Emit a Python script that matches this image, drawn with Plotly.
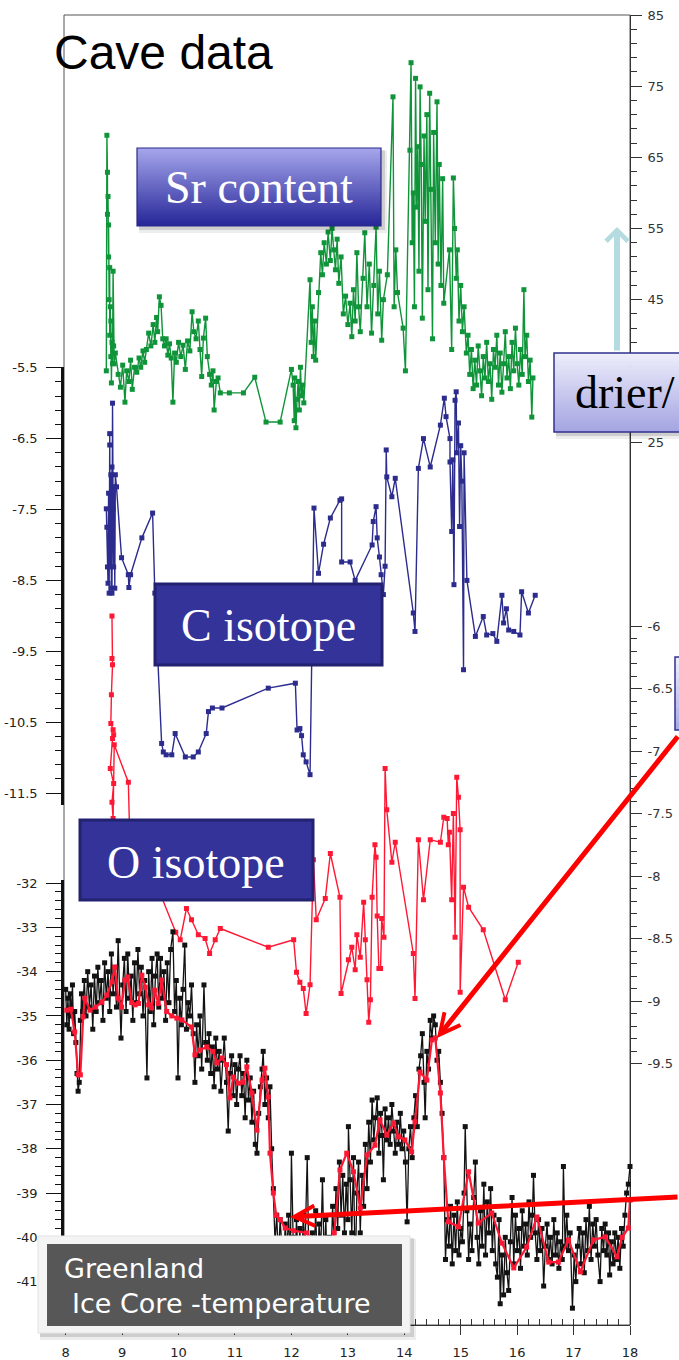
import plotly.graph_objects as go

# ---------------- data ----------------
x_ticks = [8, 9, 10, 11, 12, 13, 14, 15, 16, 17, 18]
sr_ticks = [25, 45, 55, 65, 75, 85]
c_ticks = [-5.5, -6.5, -7.5, -8.5, -9.5, -10.5, -11.5]
o_ticks = [-6, -6.5, -7, -7.5, -8, -8.5, -9, -9.5]
o_tick_text = ["-6", "-6.5", "-7", "-7.5", "-8", "-8.5", "-9", "-9.5"]
t_ticks = [-32, -33, -34, -35, -36, -37, -38, -39, -40, -41, -42]

# Sr content (right upper axis)
sr_x = [8.72, 8.73, 8.74, 8.74, 8.75, 8.76, 8.76, 8.77, 8.78, 8.78, 8.79, 8.80, 8.80, 8.81, 8.82, 8.83, 8.84, 8.85, 8.86, 8.88,
        8.93, 8.97, 9.01, 9.05, 9.08, 9.12, 9.15, 9.18, 9.22, 9.26, 9.30, 9.33, 9.37, 9.40,
        9.43, 9.47, 9.51, 9.55, 9.58, 9.61, 9.63, 9.66, 9.69, 9.72,
        9.75, 9.78, 9.81, 9.84, 9.87, 9.90, 9.93, 9.96,
        10.00, 10.04, 10.08, 10.12, 10.16, 10.20, 10.24, 10.27,
        10.31, 10.35, 10.38, 10.41, 10.44, 10.48, 10.51,
        10.55, 10.58, 10.61, 10.63, 10.67, 10.70, 10.74,
        10.90, 11.15, 11.35, 11.55, 11.80,
        12.00, 12.03, 12.05, 12.06, 12.08, 12.10, 12.12, 12.14, 12.16, 12.18, 12.20, 12.22,
        12.33, 12.35, 12.37, 12.39, 12.41, 12.43,
        12.48, 12.52, 12.55, 12.58, 12.62, 12.65,
        12.69, 12.72, 12.75, 12.78, 12.81, 12.84, 12.88,
        12.92, 12.96, 13.00, 13.04, 13.07, 13.10, 13.13, 13.16, 13.19, 13.22,
        13.27, 13.30, 13.34, 13.38, 13.42, 13.46, 13.50, 13.53, 13.56, 13.60, 13.63,
        13.70, 13.80, 13.82, 13.85, 13.88, 13.98, 14.02,
        14.10, 14.12, 14.14, 14.16, 14.18,
        14.20, 14.22, 14.24, 14.26, 14.28, 14.30, 14.32, 14.35, 14.37, 14.40, 14.42, 14.45, 14.47, 14.50, 14.52, 14.55,
        14.58, 14.60, 14.62, 14.65, 14.68, 14.70,
        14.80, 14.84, 14.87, 14.89, 14.92, 14.94, 14.97, 15.00, 15.03, 15.06,
        15.10, 15.13, 15.16, 15.19, 15.22, 15.25, 15.28, 15.31, 15.34, 15.37, 15.40, 15.43, 15.46, 15.49, 15.52,
        15.55, 15.58, 15.61, 15.64, 15.67, 15.70, 15.73, 15.76, 15.79, 15.82, 15.85, 15.88, 15.91, 15.94, 15.97,
        16.00, 16.03, 16.06, 16.09, 16.12, 16.14, 16.17, 16.20, 16.23, 16.26, 16.28]
sr_val = [35.0, 68.1, 62.9, 57.0, 59.5, 51.0, 55.5, 45.0, 49.5, 40.0, 44.0, 37.0, 42.0, 33.3, 39.0, 36.0, 49.0, 38.5, 36.0, 37.5,
          34.5, 32.7, 35.8, 30.6, 35.0, 33.5, 36.5, 32.4, 35.5, 34.8, 36.8, 35.5, 37.8, 36.2,
          38.0, 40.3, 38.5, 41.5, 39.0, 42.5, 40.5, 45.4, 44.2, 39.5,
          38.5, 39.5, 37.2, 38.8, 36.8, 30.6, 37.5, 36.2,
          39.0, 37.0, 38.6, 35.2, 39.2, 37.8, 43.3, 40.5,
          39.5, 42.0, 38.0, 34.2, 39.6, 42.4, 37.0,
          34.5, 33.0, 35.0, 29.5, 33.5, 34.0, 31.9,
          31.9, 31.9, 34.1, 27.8, 27.8,
          35.2, 33.0, 28.0, 34.0, 27.0, 31.0, 33.5, 29.5, 35.5, 31.5, 33.0, 30.5,
          47.8, 39.0, 44.0, 37.0, 42.0, 36.5,
          46.0, 51.6, 48.5, 53.0, 50.0, 54.5,
          50.5, 55.0, 52.0, 49.2, 53.5, 47.3, 51.0,
          43.0, 45.5, 41.5, 44.5, 39.8, 46.4, 42.0, 51.6, 44.0, 40.5,
          48.0, 54.4, 44.0, 50.0, 40.3, 47.0, 55.2, 43.0, 49.0, 39.3, 45.0,
          48.5, 73.5, 44.0, 52.0, 46.0, 41.0, 35.0,
          66.0, 78.3, 53.0, 60.0, 44.0,
          76.1, 58.0, 66.5, 49.0, 74.9, 64.0, 42.4, 68.0, 56.0, 71.0, 46.4, 74.0, 60.5, 39.5, 68.5, 53.0,
          72.8, 50.0, 64.0, 47.0, 62.0, 44.5,
          52.0, 38.0, 62.1, 55.0, 48.0, 52.0, 42.0, 47.0, 40.5, 44.0,
          37.5, 40.0, 34.5, 38.0, 32.5, 36.5, 33.0, 38.5, 35.0, 31.5, 37.0, 34.0, 39.0, 33.5, 36.0,
          31.0, 38.0, 35.5, 40.0, 33.0, 37.5, 32.0, 36.0, 40.5, 34.0, 37.0, 32.5, 39.0, 35.0, 41.0,
          36.0, 33.0, 38.0, 34.5, 46.4, 37.0, 40.0, 33.5, 36.5, 28.5, 34.0]

# C isotope (left upper axis)
c_x = [8.72, 8.73, 8.74, 8.75, 8.76, 8.77, 8.78, 8.78, 8.79, 8.80, 8.81, 8.82, 8.82, 8.83, 8.84, 8.85, 8.86, 8.87, 8.88, 8.90,
       8.99, 9.11, 9.12, 9.15, 9.35, 9.54, 9.58,
       9.70, 9.73, 9.78, 9.88, 9.94, 10.12, 10.26, 10.35, 10.49, 10.53, 10.60, 10.77, 11.59, 12.07, 12.10, 12.15, 12.18, 12.21, 12.26, 12.33,
       12.40, 12.48, 12.57, 12.69, 12.86, 12.89, 12.89, 13.04, 13.13,
       13.43, 13.45, 13.50, 13.52, 13.56, 13.59, 13.63, 13.66, 13.68, 13.69, 13.78, 13.84,
       14.16, 14.19, 14.25, 14.34, 14.46, 14.64, 14.71, 14.74, 14.81, 14.81, 14.84, 14.86, 14.88, 14.90, 14.92, 14.93, 14.96, 14.98,
       15.00, 15.02, 15.05, 15.06, 15.11,
       15.26, 15.40, 15.46, 15.57, 15.64, 15.73, 15.76, 15.81, 15.85, 15.94, 16.05, 16.08, 16.20, 16.32]
c_val = [-7.49, -7.75, -8.31, -8.54, -7.27, -8.68, -6.59, -6.43, -8.31, -7.01, -8.61, -6.90, -8.68, -6.00, -7.49, -8.31, -7.18, -8.61, -7.01, -7.18,
         -8.18, -8.42, -8.60, -8.42, -7.90, -7.55, -8.68,
         -10.80, -10.92, -10.96, -10.96, -10.66, -10.99, -10.99, -10.92, -10.66, -10.35, -10.30, -10.30, -10.02, -9.95, -10.61, -10.59, -10.69, -10.96, -11.06, -11.24,
         -7.48, -8.40, -7.99, -7.62, -7.37, -7.35, -8.24, -8.24, -8.50,
         -8.00, -7.67, -7.46, -7.90, -8.17, -8.42, -8.70, -8.30, -6.66, -7.04, -7.32, -7.06,
         -8.96, -9.22, -6.92, -6.50, -6.90, -6.31, -5.93, -6.19, -6.50, -6.83, -7.81, -6.80, -8.56, -5.96, -5.84, -6.70, -6.28, -7.74,
         -6.60, -7.10, -9.76, -6.70, -8.50,
         -9.29, -9.01, -9.27, -9.25, -9.36, -8.71, -9.10, -8.90, -9.20, -9.22, -9.27, -8.66, -8.96, -8.71]

# O isotope (right lower axis)
o_x = [8.82, 8.82, 8.83, 8.81, 8.80, 8.84, 8.85, 8.83, 8.79, 8.85, 8.82, 8.84, 8.86, 9.11, 9.13, 9.55, 9.95, 10.03, 10.14, 10.23,
       10.35, 10.47, 10.55, 10.65, 10.74, 11.59, 12.04, 12.09, 12.15, 12.21, 12.26, 12.33, 12.39, 12.44, 12.60, 12.69, 12.86, 12.88,
       13.01, 13.07, 13.13, 13.16, 13.22, 13.28, 13.31, 13.34, 13.37, 13.40, 13.43, 13.48, 13.50, 13.52, 13.55, 13.58, 13.60, 13.64,
       13.66, 13.69, 13.78, 13.84, 14.16, 14.19, 14.25, 14.34, 14.46, 14.64, 14.70, 14.76, 14.78, 14.80, 14.84, 14.87, 14.90, 14.93,
       14.96, 14.99, 14.99, 15.05, 15.14, 15.40, 15.79, 16.02]
o_val = [-5.92, -6.26, -6.31, -6.55, -6.78, -6.83, -6.87, -6.90, -7.14, -7.26, -7.41, -7.54, -6.95, -7.25, -7.60, -8.00, -8.45, -8.51, -8.26, -8.35,
         -8.47, -8.50, -8.62, -8.51, -8.42, -8.57, -8.51, -8.77, -8.85, -8.90, -9.10, -8.87, -7.87, -8.35, -8.18, -7.82, -8.17, -8.94,
         -8.67, -8.57, -8.75, -8.47, -8.65, -8.21, -8.51, -8.83, -9.17, -8.99, -8.17, -7.75, -7.85, -8.32, -8.74, -8.74, -8.34, -8.49,
         -7.14, -7.47, -7.89, -7.73, -8.62, -8.98, -7.71, -8.19, -7.71, -7.73, -7.53, -7.54, -7.75, -7.65, -8.19, -7.50, -8.49, -7.21,
         -7.37, -7.63, -8.93, -8.09, -8.25, -8.43, -8.99, -8.69]

# Greenland ice core temperature, raw (left lower axis)
t_x = [8.00, 8.02, 8.04, 8.06, 8.08, 8.10, 8.12, 8.14, 8.16, 8.18, 8.20, 8.22, 8.24, 8.26, 8.28, 8.30,
       8.33, 8.36, 8.39, 8.42, 8.45, 8.48, 8.51, 8.54, 8.57, 8.60, 8.63, 8.66, 8.69, 8.72, 8.75, 8.78, 8.81, 8.84, 8.87, 8.90, 8.93, 8.96, 8.98,
       9.01, 9.04, 9.07, 9.10, 9.13, 9.16, 9.19, 9.22, 9.25, 9.28, 9.31, 9.34, 9.37, 9.40, 9.44, 9.47, 9.50, 9.53, 9.56, 9.59,
       9.62, 9.65, 9.68, 9.71, 9.74, 9.77, 9.80, 9.83, 9.86, 9.90, 9.93, 9.96, 9.99, 10.02, 10.05, 10.08, 10.11, 10.14, 10.17, 10.20, 10.23, 10.26,
       10.29, 10.32, 10.35, 10.38, 10.41, 10.45, 10.48, 10.51, 10.54, 10.57, 10.60, 10.63, 10.66, 10.69, 10.72, 10.75, 10.78, 10.81, 10.85, 10.88,
       10.91, 10.94, 10.97, 11.00, 11.03, 11.06, 11.09, 11.12, 11.15, 11.18, 11.21, 11.24, 11.27, 11.30, 11.33, 11.36, 11.39, 11.42, 11.45, 11.48,
       11.50, 11.53, 11.56, 11.59, 11.62,
       11.65, 11.68, 11.71, 11.74, 11.77, 11.80, 11.83, 11.86, 11.89, 11.92, 11.95, 11.98, 12.00, 12.03, 12.06, 12.09, 12.12, 12.15, 12.18, 12.21,
       12.24, 12.28, 12.31, 12.34, 12.37, 12.40, 12.43, 12.46, 12.49, 12.52, 12.55, 12.58, 12.61, 12.64, 12.67, 12.70, 12.73, 12.76, 12.79, 12.82,
       12.85, 12.88, 12.91, 12.94, 12.97,
       13.00, 13.01, 13.04, 13.07, 13.10, 13.13, 13.16, 13.19, 13.22, 13.25, 13.28, 13.31, 13.34, 13.37, 13.40, 13.43, 13.46, 13.49, 13.52, 13.55,
       13.58, 13.61, 13.63, 13.66, 13.69, 13.72, 13.75, 13.78, 13.81, 13.84, 13.87, 13.90, 13.93, 13.96, 13.99, 14.02, 14.05, 14.08, 14.11, 14.14,
       14.17, 14.20, 14.23, 14.26, 14.29, 14.32, 14.35, 14.37, 14.40, 14.43, 14.46, 14.49, 14.52, 14.55, 14.58, 14.61, 14.64, 14.67, 14.70, 14.73,
       14.76, 14.79, 14.82, 14.85, 14.88, 14.91, 14.94, 14.97, 15.00, 15.03, 15.06, 15.08, 15.11, 15.14, 15.17, 15.20, 15.23, 15.26, 15.29, 15.32,
       15.35, 15.38, 15.41, 15.44, 15.47, 15.50, 15.53, 15.56, 15.59, 15.62, 15.65, 15.68, 15.70, 15.73, 15.76, 15.79, 15.82, 15.85, 15.88, 15.91,
       15.94, 15.97, 16.00, 16.03, 16.06, 16.09, 16.12, 16.15, 16.18, 16.21, 16.24, 16.27, 16.29, 16.32, 16.35, 16.38, 16.41, 16.44, 16.47, 16.50,
       16.53, 16.56, 16.59, 16.62, 16.65, 16.68, 16.71, 16.74, 16.77, 16.80, 16.82, 16.85, 16.88, 16.91, 16.94, 16.98, 17.01, 17.04, 17.07, 17.10,
       17.13, 17.16, 17.19, 17.22, 17.25, 17.28, 17.31, 17.34, 17.37, 17.40, 17.43, 17.47, 17.50, 17.53, 17.56, 17.59, 17.62, 17.64, 17.67, 17.70,
       17.73, 17.76, 17.79, 17.82, 17.85, 17.88, 17.91, 17.94, 17.97, 18.00]
t_val = [-34.4, -35.2, -34.6, -35.3, -34.5, -35.0, -34.3, -35.4, -34.9, -35.6, -36.3, -36.7, -36.5, -35.1, -34.5, -34.9,
         -34.2, -35.0, -34.0, -34.8, -34.3, -35.3, -34.1, -34.9, -33.9, -34.7, -34.2, -35.1, -33.8, -34.6, -34.0, -34.9, -33.6, -34.5, -33.9, -34.8, -33.3, -34.7, -35.5,
         -34.3, -33.7, -34.9, -33.6, -34.6, -34.1, -35.1, -33.8, -34.7, -33.5, -34.5, -33.9, -35.0, -34.2, -36.4, -34.0, -34.9, -33.7, -35.2, -34.1,
         -33.6, -34.8, -33.7, -34.6, -34.0, -35.1, -33.8, -34.7, -33.5, -33.1, -34.9, -34.2, -36.4, -34.6, -35.2, -34.4, -33.4, -35.3, -34.7, -35.0, -34.3, -35.4,
         -36.5, -35.2, -35.9, -35.0, -36.2, -34.3, -35.6, -36.0, -35.4, -36.3, -35.7, -36.6, -35.5, -36.2, -35.8, -36.7, -36.0, -35.5, -36.5, -37.6,
         -36.3, -35.9, -36.8, -36.1, -37.0, -36.2, -35.9, -36.8, -36.3, -37.3, -36.0, -36.9, -36.4, -37.4, -36.7, -37.9, -38.1, -37.2, -36.6, -36.2,
         -35.8, -37.0, -36.4, -37.3, -36.6,
         -38.0, -38.9, -40.1, -39.5, -40.5, -39.6, -40.2, -40.8, -39.7, -40.3, -39.5, -40.6, -38.1, -40.0, -40.7, -39.6, -40.5, -39.8, -40.9, -39.5,
         -40.3, -38.2, -40.6, -41.3, -39.9, -40.5, -39.4, -40.8, -39.7, -40.3, -38.7, -40.5, -39.6, -41.2, -40.0, -40.6, -39.3, -40.2, -38.9, -39.8,
         -38.3, -39.5, -38.6, -39.9, -38.8,
         -39.6, -37.5, -38.7, -39.9, -38.2, -40.85, -39.0, -38.3, -39.9, -38.6, -39.3, -37.9, -38.9, -37.4, -38.3, -36.9, -37.8, -37.3, -36.85, -38.1,
         -37.2, -37.7, -38.7, -37.1, -37.8, -37.3, -37.9, -37.0, -37.6, -38.1, -37.4, -37.9, -37.2, -38.0, -37.6, -38.3, -39.65, -38.0, -37.5, -38.2,
         -37.3, -36.8, -37.5, -36.2, -35.9, -35.4, -36.5, -37.3, -35.8, -36.2, -35.1, -35.5, -35.0, -35.2, -36.0, -35.8, -36.5, -37.2, -38.2, -40.5,
         -39.6, -40.2, -39.3, -40.6, -39.5, -40.3, -39.2, -40.4, -39.8, -40.1, -39.0, -37.5, -39.4, -40.5, -39.7, -40.3, -39.1, -38.3, -40.0, -40.6,
         -39.4, -40.2, -38.8, -40.4, -39.2, -39.9, -38.9, -40.3, -39.5, -40.6, -40.9, -39.6, -41.5, -40.4, -41.3, -40.0, -40.8, -41.2, -40.1, -39.1,
         -40.6, -39.5, -40.3, -39.8, -40.7, -39.4, -40.2, -39.7, -40.4, -39.2, -40.0, -39.5, -38.6, -39.9, -40.5, -39.6, -40.3, -39.8, -41.1, -40.2,
         -39.7, -40.5, -40.0, -40.6, -39.6, -40.4, -39.9, -40.7, -40.1, -40.5, -38.4, -40.2, -39.5, -40.3, -39.9, -41.6, -40.4, -41.0, -40.2, -39.8,
         -40.6, -39.9, -40.8, -39.6, -40.3, -39.3, -40.5, -39.7, -40.2, -39.6, -40.4, -41.0, -39.8, -40.3, -39.7, -40.4, -39.9, -40.85, -40.1, -40.6,
         -39.9, -40.5, -40.0, -40.7, -39.8, -40.2, -39.5, -39.0, -38.8, -38.4]

# Greenland ice core temperature, smoothed (red)
ts_x = [8.02, 8.09, 8.16, 8.22, 8.26, 8.31, 8.34, 8.43, 8.53, 8.64, 8.73, 8.82, 8.87, 8.93, 8.99, 9.05, 9.10, 9.17, 9.23, 9.29,
        9.35, 9.41, 9.47, 9.52, 9.58, 9.64, 9.70, 9.79, 9.88, 9.97, 10.06, 10.23, 10.29, 10.38, 10.50, 10.61, 10.68, 10.77, 10.85, 10.91,
        10.97, 11.06, 11.14, 11.21, 11.30, 11.39, 11.48, 11.53, 11.59, 11.62, 11.68, 11.73, 11.80, 11.89, 12.04, 12.27, 12.40, 12.51, 12.65, 12.76,
        12.86, 12.98, 13.10, 13.22, 13.34, 13.48, 13.57, 13.69, 13.81, 13.90, 14.01, 14.13, 14.19, 14.28, 14.40, 14.49, 14.55, 14.64, 14.70, 14.78,
        14.96, 15.14, 15.31, 15.55, 15.73, 15.94, 16.17, 16.35, 16.56, 16.73, 16.91, 17.12, 17.35, 17.56, 17.77, 17.86, 17.97, 18.00]
ts_val = [-34.87, -34.85, -35.36, -36.33, -36.33, -35.02, -34.60, -34.87, -34.80, -34.69, -34.53, -34.23, -33.90, -34.60, -34.80, -34.19, -34.12, -34.70, -34.75, -34.72,
          -34.08, -34.35, -34.75, -34.82, -34.42, -34.72, -34.19, -34.90, -35.00, -35.05, -35.09, -35.25, -35.88, -35.77, -35.70, -35.80, -36.06, -35.95, -36.10, -36.85,
          -36.38, -36.52, -36.50, -36.15, -36.74, -37.58, -36.45, -36.18, -36.83, -38.10, -39.00, -39.50, -39.60, -39.79, -39.85, -39.90, -40.10, -40.29, -40.90, -39.90,
          -38.48, -38.10, -38.52, -39.34, -38.14, -37.92, -37.35, -37.69, -37.42, -37.73, -37.80, -38.07, -37.39, -36.27, -36.45, -35.54, -35.50, -36.74, -38.20, -39.65,
          -39.76, -38.52, -39.68, -39.45, -40.13, -40.69, -40.22, -39.54, -40.56, -40.56, -40.06, -40.78, -40.06, -39.99, -40.44, -40.00, -39.79, -39.16]

for a, b in [(sr_x, sr_val), (c_x, c_val), (o_x, o_val), (t_x, t_val), (ts_x, ts_val)]:
    assert len(a) == len(b), (len(a), len(b))

# ---------------- geometry helpers (pixel -> paper) ----------------
W, H = 679, 1360
ML, MR, MT, MB = 64, 49, 15, 35
PW, PH = W - ML - MR, H - MT - MB


def fx(p):
    return (p - ML) / PW


def fy(p):
    return (H - MB - p) / PH


GREEN = "#0F9439"
NAVY = "#2C2C8E"
RED = "#FF1834"
BLACK = "#121212"

fig = go.Figure()
sq = dict(symbol="square", size=5)
fig.add_trace(go.Scatter(x=sr_x, y=sr_val, xaxis="x", yaxis="y", mode="lines+markers",
                         line=dict(color=GREEN, width=1.4), marker=dict(color=GREEN, **sq), cliponaxis=False))
fig.add_trace(go.Scatter(x=c_x, y=c_val, xaxis="x", yaxis="y2", mode="lines+markers",
                         line=dict(color=NAVY, width=1.4), marker=dict(color=NAVY, **sq), cliponaxis=False))
fig.add_trace(go.Scatter(x=o_x, y=o_val, xaxis="x", yaxis="y3", mode="lines+markers",
                         line=dict(color=RED, width=1.4), marker=dict(color=RED, **sq), cliponaxis=False))
fig.add_trace(go.Scatter(x=t_x, y=t_val, xaxis="x", yaxis="y4", mode="lines+markers",
                         line=dict(color=BLACK, width=1.3), marker=dict(color=BLACK, **sq), cliponaxis=False))
fig.add_trace(go.Scatter(x=ts_x, y=ts_val, xaxis="x", yaxis="y4", mode="lines+markers",
                         line=dict(color=RED, width=2.2), marker=dict(color=RED, **sq), cliponaxis=False))

left_font = dict(family="DejaVu Sans", size=13, color="#222")
right_font = dict(family="DejaVu Sans", size=13, color="#333")
base = dict(showgrid=False, zeroline=False, showline=True, ticks="outside", tickmode="array")

fig.update_layout(
    width=W, height=H, margin=dict(l=ML, r=MR, t=MT, b=MB, autoexpand=False),
    paper_bgcolor="white", plot_bgcolor="rgba(0,0,0,0)", showlegend=False,
    xaxis=dict(base, domain=[0, 1], range=[7.97, 18.0], anchor="y4",
               tickvals=x_ticks, ticktext=[str(v) for v in x_ticks],
               ticklen=9, tickwidth=1, tickcolor="#333", linecolor="#333", linewidth=1,
               tickfont=dict(family="DejaVu Sans", size=13, color="#222"), ticklabelstandoff=6,
               minor=dict(tickmode="linear", tick0=8, dtick=0.2, ticks="inside", ticklen=6,
                          tickcolor="#333", tickwidth=1)),
    yaxis=dict(base, domain=[fy(442), 1], range=[25, 85], side="right", anchor="x",
               tickvals=sr_ticks, ticktext=[str(v) for v in sr_ticks],
               ticklen=11, tickwidth=1, tickcolor="#333", linecolor="#333", linewidth=1,
               tickfont=right_font, ticklabelstandoff=3,
               minor=dict(tickmode="linear", tick0=25, dtick=2, ticks="outside", ticklen=6,
                          tickcolor="#333", tickwidth=1)),
    yaxis2=dict(base, domain=[fy(805), fy(367)], range=[-11.668, -5.49], side="left", anchor="x",
                tickvals=c_ticks, ticktext=[str(v) for v in c_ticks],
                ticklen=15, tickwidth=1.3, tickcolor="#111", linecolor="#111", linewidth=2.5,
                tickfont=left_font, ticklabelstandoff=6,
                minor=dict(tickmode="linear", tick0=-5.5, dtick=0.2, ticks="outside", ticklen=6,
                           tickcolor="#111", tickwidth=1)),
    yaxis3=dict(base, domain=[0, fy(442)], range=[-11.592, -4.528], side="right", anchor="x",
                tickvals=o_ticks, ticktext=o_tick_text,
                ticklen=11, tickwidth=1, tickcolor="#333", linecolor="#333", linewidth=1,
                tickfont=right_font, ticklabelstandoff=3,
                minor=dict(tickmode="array", tickvals=[round(-6 - 0.1 * i, 1) for i in range(36)],
                           ticks="outside", ticklen=6, tickcolor="#333", tickwidth=1)),
    yaxis4=dict(base, domain=[0, fy(880)], range=[-41.98, -31.93], side="left", anchor="x",
                tickvals=t_ticks, ticktext=[str(v) for v in t_ticks],
                ticklen=15, tickwidth=1.3, tickcolor="#111", linecolor="#111", linewidth=2.5,
                tickfont=left_font, ticklabelstandoff=6,
                minor=dict(tickmode="linear", tick0=-32, dtick=0.2, ticks="outside", ticklen=6,
                           tickcolor="#111", tickwidth=1)),
)

shapes = []
# thin frame around plot area
shapes.append(dict(type="rect", xref="paper", yref="paper", x0=0, x1=1, y0=0, y1=1,
                   line=dict(color="#555", width=1), fillcolor="rgba(0,0,0,0)", layer="below"))


def rect(x0, y0, x1, y1, fill, line_color=None, lw=0):
    return dict(type="rect", xref="paper", yref="paper", x0=fx(x0), x1=fx(x1), y0=fy(y1), y1=fy(y0),
                fillcolor=fill, line=dict(color=line_color or "rgba(0,0,0,0)", width=lw), layer="above")


def shadow(x0, y0, x1, y1):
    return [rect(x0 + 2, y0 + 3, x1 + 6, y1 + 7, "rgba(0,0,0,0.07)"),
            rect(x0 + 2, y0 + 2, x1 + 4, y1 + 4, "rgba(0,0,0,0.13)")]


def grad_box(x0, y0, x1, y1, ctop, cbot, border, bw, n=30):
    out = []
    h = (y1 - y0) / n
    for i in range(n):
        t = (i + 0.5) / n
        c = tuple(round(a + (b - a) * t) for a, b in zip(ctop, cbot))
        out.append(rect(x0, y0 + i * h, x1, min(y1, y0 + (i + 1) * h + 0.7), "rgb(%d,%d,%d)" % c))
    out.append(rect(x0, y0, x1, y1, "rgba(0,0,0,0)", border, bw))
    return out


# "Sr content" box
shapes += shadow(137, 148, 381, 226)
shapes += grad_box(137, 148, 381, 226, (166, 166, 236), (38, 38, 152), "#2A2A8A", 1.2)
# "drier/" box
shapes += shadow(554, 353, 700, 432)
shapes += grad_box(554, 353, 700, 432, (238, 238, 251), (164, 164, 226), "#30308E", 1.5)
# partially visible box at right edge
shapes += grad_box(675, 657, 700, 730, (238, 238, 251), (170, 170, 228), "#30308E", 1.5, n=10)
# "C isotope" box
shapes.append(rect(155, 584, 382, 665, "#333399", "#222270", 3))
# "O isotope" box
shapes.append(rect(80, 820, 313, 900, "#333399", "#222270", 3))
# Greenland box
shapes += shadow(38, 1236, 410, 1333)
shapes.append(rect(38, 1236, 410, 1333, "#F4F4F4", "#E2E2E2", 1))
shapes.append(rect(47, 1244, 402, 1326, "#575757"))

fig.update_layout(shapes=shapes)

serif = "Liberation Serif, Times New Roman, serif"
ann = []
ann.append(dict(text="Cave data", x=fx(52), y=fy(53), xref="paper", yref="paper", xanchor="left",
                yanchor="middle", showarrow=False, font=dict(family="Liberation Sans, Arial", size=48, color="black")))
ann.append(dict(text="Sr content", x=fx(259), y=fy(188), xref="paper", yref="paper", xanchor="center",
                yanchor="middle", showarrow=False, font=dict(family=serif, size=46, color="white")))
ann.append(dict(text="C isotope", x=fx(268), y=fy(625), xref="paper", yref="paper", xanchor="center",
                yanchor="middle", showarrow=False, font=dict(family=serif, size=46, color="white")))
ann.append(dict(text="O isotope", x=fx(196), y=fy(862), xref="paper", yref="paper", xanchor="center",
                yanchor="middle", showarrow=False, font=dict(family=serif, size=46, color="white")))
ann.append(dict(text="drier/", x=fx(573), y=fy(392), xref="paper", yref="paper", xanchor="left",
                yanchor="middle", showarrow=False, font=dict(family=serif, size=46, color="black")))
ann.append(dict(text="Greenland", x=fx(62), y=fy(1268), xref="paper", yref="paper", xanchor="left",
                yanchor="middle", showarrow=False, font=dict(family="DejaVu Sans", size=27, color="white")))
ann.append(dict(text="Ice Core -temperature", x=fx(70), y=fy(1303), xref="paper", yref="paper", xanchor="left",
                yanchor="middle", showarrow=False, font=dict(family="DejaVu Sans", size=27, color="white")))
# arrows
ann.append(dict(text="", x=fx(617), y=fy(227), xref="paper", yref="paper", showarrow=True,
                ax=0, ay=352 - 227, axref="pixel", ayref="pixel", arrowcolor="#B4DCE0",
                arrowwidth=6, arrowhead=4, arrowsize=0.7, standoff=0))
ann.append(dict(text="", x=fx(437), y=fy(1038), xref="paper", yref="paper", showarrow=True,
                ax=685 - 437, ay=735 - 1038, axref="pixel", ayref="pixel", arrowcolor="#FF0000",
                arrowwidth=5, arrowhead=5, arrowsize=0.8, standoff=0))
ann.append(dict(text="", x=fx(290), y=fy(1217), xref="paper", yref="paper", showarrow=True,
                ax=685 - 290, ay=1197 - 1217, axref="pixel", ayref="pixel", arrowcolor="#FF0000",
                arrowwidth=5, arrowhead=5, arrowsize=0.8, standoff=0))
fig.update_layout(annotations=ann)

fig.write_html("out.html", config={"displayModeBar": False},
               post_script="document.body.style.margin='0px';document.body.style.overflow='hidden';")
